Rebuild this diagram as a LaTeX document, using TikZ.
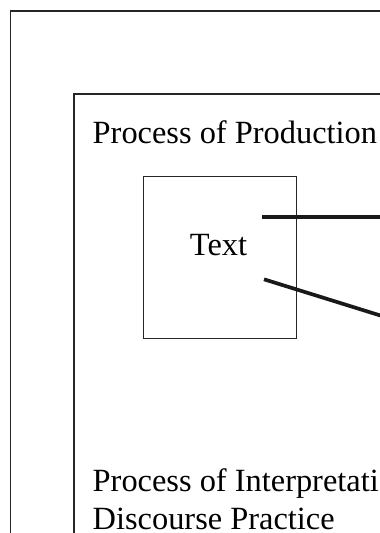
\documentclass[tikz,border=0pt]{standalone}
\usepackage{fontspec}
\setmainfont{Liberation Serif}
\begin{document}
\begin{tikzpicture}[x=1pt,y=-1pt,
  frame/.style={draw=black!85,line width=1.4pt},
  label/.style={inner sep=0pt,anchor=base west,font=\fontsize{32.4}{38}\selectfont},
  link/.style={draw=black!90,line width=4.2pt}]
\useasboundingbox (0,0) rectangle (380,533);
\clip (0,0) rectangle (380,533);
\fill[white] (0,0) rectangle (380,533);
\draw[frame] (10.5,11) rectangle (420,580);
\draw[frame] (74,94) rectangle (420,580);
\node[frame,minimum width=153pt,minimum height=161.5pt,inner sep=0pt] (box) at (220.1,257.5) {};
\node[label] (prod) at (92.5,143.3) {Process of Production};
\node[label,anchor=base] (txt) at (218.5,255) {Text};
\node[label] (interp) at (92.5,491.7) {Process of Interpretati};
\node[label] (disc) at (92.5,529.5) {Discourse Practice};
\coordinate (a1) at (262,216.7);
\coordinate (a2) at (400,216.7);
\coordinate (b1) at (264,279.3);
\coordinate (b2) at (400,321.6);
\draw[link] (a1) -- (a2);
\draw[link,line width=3.7pt] (b1) -- (b2);
\end{tikzpicture}
\end{document}
